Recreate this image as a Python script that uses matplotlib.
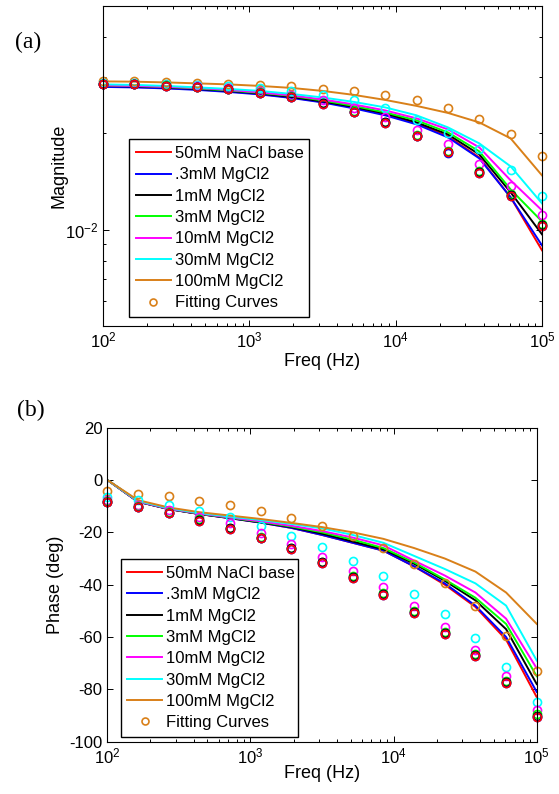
import numpy as np
import matplotlib
matplotlib.use("Agg")
import matplotlib.pyplot as plt
from matplotlib.ticker import LogLocator, NullFormatter, FixedLocator

plt.rcParams['font.family'] = ['Liberation Sans', 'DejaVu Sans']
plt.rcParams['mathtext.fontset'] = 'custom'
plt.rcParams['mathtext.rm'] = 'Liberation Sans'
plt.rcParams['mathtext.it'] = 'Liberation Sans'
plt.rcParams['mathtext.default'] = 'regular'
plt.rcParams['axes.unicode_minus'] = False

# frequencies (Hz), 10^2 .. 10^5
freq = np.logspace(2, 5, 15)

labels = ["50mM NaCl base", ".3mM MgCl2", "1mM MgCl2", "3mM MgCl2",
          "10mM MgCl2", "30mM MgCl2", "100mM MgCl2"]
colors = ["#ff0000", "#0000ff", "#000000", "#00ff00", "#ff00ff", "#00ffff", "#d98019"]

# (a) magnitude, measured lines
mag_red = [0.02804, 0.02794, 0.02774, 0.02745, 0.02705, 0.02657, 0.02590, 0.02508,
           0.02411, 0.02293, 0.02149, 0.01957, 0.01682, 0.01262, 0.00862]
mag_blue = [0.02794, 0.02784, 0.02764, 0.02735, 0.02695, 0.02647, 0.02581, 0.02499,
            0.02394, 0.02277, 0.02134, 0.01943, 0.01671, 0.01262, 0.00893]
mag_black = [0.02814, 0.02804, 0.02784, 0.02754, 0.02715, 0.02666, 0.02600, 0.02517,
             0.02419, 0.02309, 0.02164, 0.01985, 0.01719, 0.01308, 0.00967]
mag_green = [0.02824, 0.02814, 0.02794, 0.02764, 0.02725, 0.02676, 0.02619, 0.02535,
             0.02437, 0.02325, 0.02196, 0.02014, 0.01757, 0.01336, 0.01061]
mag_magenta = [0.02824, 0.02814, 0.02794, 0.02774, 0.02735, 0.02686, 0.02628, 0.02553,
               0.02463, 0.02359, 0.02228, 0.02058, 0.01808, 0.01426, 0.01149]
mag_cyan = [0.02845, 0.02834, 0.02814, 0.02784, 0.02754, 0.02715, 0.02657, 0.02590,
            0.02508, 0.02411, 0.02277, 0.02088, 0.01861, 0.01577, 0.01208]
mag_orange = [0.02907, 0.02901, 0.02886, 0.02866, 0.02845, 0.02814, 0.02774, 0.02715,
              0.02638, 0.02544, 0.02437, 0.02317, 0.02164, 0.01929, 0.01478]

# (a) magnitude, fitting curves (circles)
fit_mag_red = [0.02845, 0.02845, 0.02810, 0.02784, 0.02745, 0.02672, 0.02596, 0.02476,
               0.02325, 0.02153, 0.01957, 0.01744, 0.01503, 0.01277, 0.01029]
fit_mag_blue = [0.02845, 0.02845, 0.02810, 0.02784, 0.02745, 0.02672, 0.02596, 0.02476,
                0.02325, 0.02153, 0.01957, 0.01738, 0.01499, 0.01271, 0.01024]
fit_mag_black = [0.02845, 0.02845, 0.02810, 0.02784, 0.02745, 0.02676, 0.02600, 0.02481,
                 0.02334, 0.02164, 0.01964, 0.01750, 0.01510, 0.01280, 0.01031]
fit_mag_green = [0.02855, 0.02855, 0.02824, 0.02794, 0.02754, 0.02686, 0.02609, 0.02490,
                 0.02342, 0.02172, 0.01978, 0.01763, 0.01521, 0.01289, 0.01039]
fit_mag_magenta = [0.02855, 0.02855, 0.02824, 0.02804, 0.02764, 0.02705, 0.02638, 0.02548,
                   0.02394, 0.02244, 0.02043, 0.01848, 0.01608, 0.01369, 0.01114]
fit_mag_cyan = [0.02876, 0.02876, 0.02855, 0.02834, 0.02804, 0.02764, 0.02715, 0.02638,
                0.02535, 0.02394, 0.02207, 0.02004, 0.01791, 0.01540, 0.01271]
fit_mag_orange = [0.02917, 0.02917, 0.02893, 0.02880, 0.02860, 0.02838, 0.02804, 0.02758,
                  0.02705, 0.02642, 0.02548, 0.02399, 0.02223, 0.01995, 0.01698]

# (b) phase (deg), measured lines
ph_red = [0, -8.3, -11.1, -13.0, -14.6, -16.3, -18.3, -21.0, -24.0, -27.0, -33.0, -40.0, -48.5, -61.0, -83.0]
ph_blue = [0, -8.3, -11.1, -13.0, -14.6, -16.3, -18.3, -21.0, -24.0, -27.0, -33.0, -39.5, -48.0, -60.0, -81.0]
ph_black = [0, -8.3, -11.1, -13.0, -14.5, -16.2, -18.0, -20.5, -23.5, -26.5, -32.0, -38.5, -46.0, -57.0, -78.0]
ph_green = [0, -8.2, -11.0, -12.9, -14.4, -16.0, -17.8, -20.0, -22.8, -26.0, -31.5, -38.0, -45.0, -55.0, -75.0]
ph_magenta = [0, -8.2, -11.0, -12.8, -14.3, -15.8, -17.5, -19.5, -22.0, -25.0, -30.8, -36.5, -43.0, -53.0, -72.0]
ph_cyan = [0, -8.0, -10.8, -12.6, -14.0, -15.3, -16.8, -18.5, -21.0, -24.0, -29.0, -34.0, -39.5, -48.0, -69.0]
ph_orange = [0, -7.7, -10.5, -12.3, -13.6, -14.9, -16.4, -18.0, -20.0, -22.5, -26.0, -30.0, -35.0, -43.0, -55.0]

# (b) phase, fitting curves
fit_ph_red = [-8.6, -10.4, -12.7, -15.5, -18.7, -22.3, -26.3, -31.8, -37.4, -43.9, -50.9, -58.8, -67.4, -77.5, -90.5]
fit_ph_blue = [-8.6, -10.4, -12.7, -15.5, -18.7, -22.3, -26.3, -31.8, -37.4, -43.9, -50.9, -58.8, -67.4, -77.5, -90.5]
fit_ph_black = [-8.4, -10.2, -12.5, -15.3, -18.5, -22.0, -26.1, -31.5, -37.1, -43.6, -50.6, -58.4, -67.0, -77.1, -90.0]
fit_ph_green = [-8.2, -10.0, -12.3, -15.0, -18.2, -21.7, -25.8, -31.2, -36.8, -43.2, -50.2, -58.0, -66.6, -76.7, -89.6]
fit_ph_magenta = [-7.6, -9.5, -11.5, -14.3, -16.6, -20.4, -24.4, -29.3, -34.9, -41.0, -48.0, -56.0, -64.9, -75.0, -88.0]
fit_ph_cyan = [-6.4, -7.6, -9.5, -12.0, -14.3, -17.4, -21.3, -25.7, -31.0, -36.5, -43.5, -51.1, -60.5, -71.5, -85.0]
fit_ph_orange = [-4.3, -5.3, -6.3, -7.9, -9.5, -11.7, -14.5, -17.7, -21.4, -26.0, -32.0, -39.3, -48.2, -59.7, -73.0]

mag_lines = [mag_red, mag_blue, mag_black, mag_green, mag_magenta, mag_cyan, mag_orange]
mag_fits = [fit_mag_red, fit_mag_blue, fit_mag_black, fit_mag_green, fit_mag_magenta, fit_mag_cyan, fit_mag_orange]
ph_lines = [ph_red, ph_blue, ph_black, ph_green, ph_magenta, ph_cyan, ph_orange]
ph_fits = [fit_ph_red, fit_ph_blue, fit_ph_black, fit_ph_green, fit_ph_magenta, fit_ph_cyan, fit_ph_orange]

fig = plt.figure(figsize=(5.59, 7.94), dpi=100)
ax1 = fig.add_axes([0.1843, 0.5894, 0.7853, 0.4030])
ax2 = fig.add_axes([0.1920, 0.0659, 0.7682, 0.3955])


def draw(ax, lines, fits):
    handles = []
    for y, c, lab in zip(lines, colors, labels):
        h, = ax.plot(freq, y, color=c, lw=1.4, label=lab)
        handles.append(h)
    # fits drawn in reverse so red ends up on top
    for y, c in reversed(list(zip(fits, colors))):
        ax.plot(freq, y, 'o', mfc='none', mec=c, ms=5.8, mew=1.2, clip_on=False)
    fit_handle, = ax.plot([], [], 'o', mfc='none', mec=colors[-1], ms=5.0, mew=1.2,
                          label="Fitting Curves")
    handles.append(fit_handle)
    ax.set_xscale('log')
    ax.set_xlim(1e2, 1e5)
    ax.tick_params(which='both', direction='in', top=True, right=True, labelsize=12)
    ax.tick_params(which='major', length=4, width=0.7)
    ax.tick_params(which='minor', length=2.3, width=0.7)
    ax.xaxis.set_minor_locator(LogLocator(base=10, subs=np.arange(2, 10)))
    ax.xaxis.set_minor_formatter(NullFormatter())
    for s in ax.spines.values():
        s.set_linewidth(0.8)
    return handles


leg_kw = dict(loc='lower left', mode='expand', fontsize=12, handlelength=2.1,
              handletextpad=0.25, labelspacing=0.38, borderpad=0.4, frameon=True,
              fancybox=False, edgecolor='black', framealpha=1, borderaxespad=0)

h1 = draw(ax1, mag_lines, mag_fits)
ax1.set_yscale('log')
ax1.set_ylim(0.005, 0.05)
ax1.yaxis.set_major_locator(FixedLocator([0.01]))
ax1.yaxis.set_minor_locator(FixedLocator([0.005, 0.006, 0.007, 0.008, 0.009,
                                          0.02, 0.03, 0.04, 0.05]))
ax1.yaxis.set_minor_formatter(NullFormatter())
ax1.set_yticklabels([r'$10^{-2}$'])
ax1.set_ylabel("Magnitude", fontsize=13)
ax1.yaxis.set_label_coords(-0.08, 0.5)
ax1.set_xlabel("Freq (Hz)", fontsize=13)
ax1.xaxis.set_label_coords(0.5, -0.085)
ax1.legend(handles=h1, bbox_to_anchor=(0.059, 0.028, 0.41, 0.559), **leg_kw)

h2 = draw(ax2, ph_lines, ph_fits)
ax2.set_ylim(-100, 20)
ax2.set_yticks(np.arange(-100, 21, 20))
ax2.set_ylabel("Phase (deg)", fontsize=13)
ax2.yaxis.set_label_coords(-0.10, 0.5)
ax2.set_xlabel("Freq (Hz)", fontsize=13)
ax2.xaxis.set_label_coords(0.5, -0.075)
ax2.legend(handles=h2, bbox_to_anchor=(0.031, 0.015, 0.413, 0.533), **leg_kw)

fig.text(15 / 559, 1 - 42 / 794, "(a)", family='Liberation Serif', fontsize=17, va='center')
fig.text(17 / 559, 1 - 410 / 794, "(b)", family='Liberation Serif', fontsize=17, va='center')

fig.savefig("out.png", dpi=100)
